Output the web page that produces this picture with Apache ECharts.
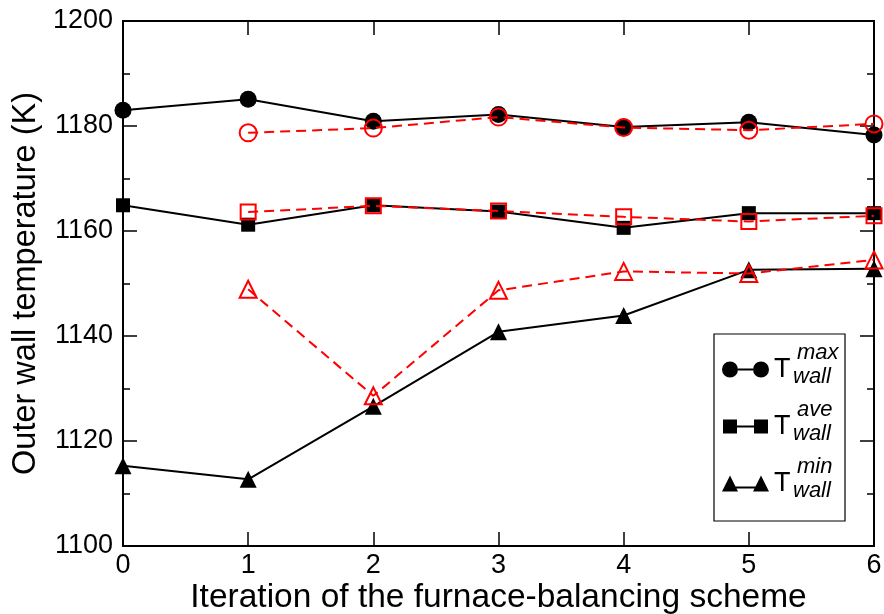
<!DOCTYPE html>
<html><head><meta charset="utf-8">
<script src="https://cdn.jsdelivr.net/npm/echarts@6/dist/echarts.min.js"></script>
<style>html,body{margin:0;padding:0;background:#fff}#c{width:884px;height:614px}</style>
</head><body><div id="c"></div>
<script>
const iterations = [0, 1, 2, 3, 4, 5, 6];
const iterRed = [1, 2, 3, 4, 5, 6];
const tMaxBlack = [1183.0, 1185.1, 1180.9, 1182.2, 1179.8, 1180.7, 1178.3];
const tAveBlack = [1164.9, 1161.2, 1164.9, 1163.7, 1160.6, 1163.4, 1163.4];
const tMinBlack = [1115.3, 1112.7, 1126.6, 1140.8, 1143.9, 1152.6, 1152.8];
const tMaxRed = [1178.7, 1179.6, 1181.7, 1179.7, 1179.2, 1180.4];
const tAveRed = [1163.6, 1164.8, 1163.8, 1162.7, 1161.8, 1162.9];
const tMinRed = [1148.9, 1128.6, 1148.7, 1152.3, 1151.9, 1154.5];
const legendSup = ['max', 'ave', 'min'];
const legendSub = 'wall';
const xTitle = 'Iteration of the furnace-balancing scheme';
const yTitle = 'Outer wall temperature (K)';

const FONT = '"Liberation Sans", Arial, sans-serif';
const pair = (xs, ys) => xs.map((x, i) => [x, ys[i]]);

const chart = echarts.init(document.getElementById('c'), null, {renderer: 'canvas'});

const axisCommon = {
  axisLine: {show: true, onZero: false, lineStyle: {color: '#000', width: 2}},
  axisTick: {show: true, inside: true, length: 14, lineStyle: {color: '#000', width: 1.5}},
  splitLine: {show: false}
};

function blackSeries(name, data, symbol, size) {
  return {
    name, type: 'line', data, symbol, symbolSize: size, z: 2,
    lineStyle: {color: '#000', width: 2},
    itemStyle: {color: '#000'},
    animation: false
  };
}
function redSeries(name, data, symbol, size) {
  return {
    name, type: 'line', data, symbol, symbolSize: size, z: 3,
    lineStyle: {color: '#f00', width: 2, type: [10, 6]},
    itemStyle: {color: 'rgba(0,0,0,0)', borderColor: '#f00', borderWidth: 2},
    animation: false
  };
}

const iconCircle = 'path://M0,8A8,8,0,1,1,16,8A8,8,0,1,1,0,8ZM16,7L31,7L31,9L16,9ZM31,8A8,8,0,1,1,47,8A8,8,0,1,1,31,8Z';
const iconSquare = 'path://M1,1L15,1L15,15L1,15ZM15,7L32,7L32,9L15,9ZM32,1L46,1L46,15L32,15ZM0,0L0,0ZM47,16L47,16Z';
const iconTri = 'path://M0,16L8,0L16,16ZM13,11L34,11L34,13L13,13ZM31,16L39,0L47,16Z';

const rowY = [370, 427, 484];
const graphics = [{
  type: 'rect', shape: {x: 714, y: 334, width: 131, height: 187},
  style: {fill: 'none', stroke: '#000', lineWidth: 1.2}, z: 10
}];
rowY.forEach((y, i) => {
  graphics.push({type: 'text', x: 797, y: y - 17, z: 11,
    style: {text: legendSup[i], font: 'italic 22px ' + FONT, fill: '#000', textVerticalAlign: 'middle'}});
  graphics.push({type: 'text', x: 793, y: y + 7, z: 11,
    style: {text: legendSub, font: 'italic 22px ' + FONT, fill: '#000', textVerticalAlign: 'middle'}});
});

chart.setOption({
  animation: false,
  backgroundColor: '#fff',
  textStyle: {fontFamily: FONT},
  grid: {left: 123, right: 10, top: 21, bottom: 68, containLabel: false, outerBoundsMode: 'none'},
  xAxis: [
    Object.assign({}, axisCommon, {
      type: 'value', min: 0, max: 6, interval: 1, position: 'bottom',
      name: xTitle, nameLocation: 'middle', nameGap: 35, nameMoveOverlap: false,
      nameTextStyle: {fontFamily: FONT, fontSize: 33.5, color: '#000'},
      axisLabel: {show: true, fontFamily: FONT, fontSize: 27, color: '#000', margin: 6}
    }),
    Object.assign({}, axisCommon, {
      type: 'value', min: 0, max: 6, interval: 1, position: 'top',
      axisLabel: {show: false}
    })
  ],
  yAxis: [
    Object.assign({}, axisCommon, {
      type: 'value', min: 1100, max: 1200, interval: 20, position: 'left',
      name: yTitle, nameLocation: 'middle', nameGap: 68, nameRotate: 90,
      nameTextStyle: {fontFamily: FONT, fontSize: 32.5, color: '#000'},
      axisLabel: {show: true, fontFamily: FONT, fontSize: 27, color: '#000', margin: 10,
        formatter: v => String(v)},
      minorTick: {show: true, splitNumber: 2, length: 7, lineStyle: {color: '#000', width: 1.5}}
    }),
    Object.assign({}, axisCommon, {
      type: 'value', min: 1100, max: 1200, interval: 20, position: 'right',
      axisLabel: {show: false},
      minorTick: {show: true, splitNumber: 2, length: 7, lineStyle: {color: '#000', width: 1.5}}
    })
  ],
  legend: {
    show: true, orient: 'vertical', left: 717, top: 351,
    itemWidth: 47, itemHeight: 16, itemGap: 30,
    textStyle: {fontFamily: FONT, fontSize: 27, color: '#000', lineHeight: 16},
    formatter: () => 'T',
    selectedMode: false,
    data: [
      {name: 'Tmax', icon: iconCircle},
      {name: 'Tave', icon: iconSquare},
      {name: 'Tmin', icon: iconTri}
    ]
  },
  graphic: graphics,
  series: [
    blackSeries('Tmax', pair(iterations, tMaxBlack), 'circle', 17),
    blackSeries('Tave', pair(iterations, tAveBlack), 'rect', 14),
    blackSeries('Tmin', pair(iterations, tMinBlack), 'triangle', 17),
    redSeries('Tmax-red', pair(iterRed, tMaxRed), 'circle', 17),
    redSeries('Tave-red', pair(iterRed, tAveRed), 'rect', 15),
    redSeries('Tmin-red', pair(iterRed, tMinRed), 'triangle', 17)
  ]
});
</script></body></html>
